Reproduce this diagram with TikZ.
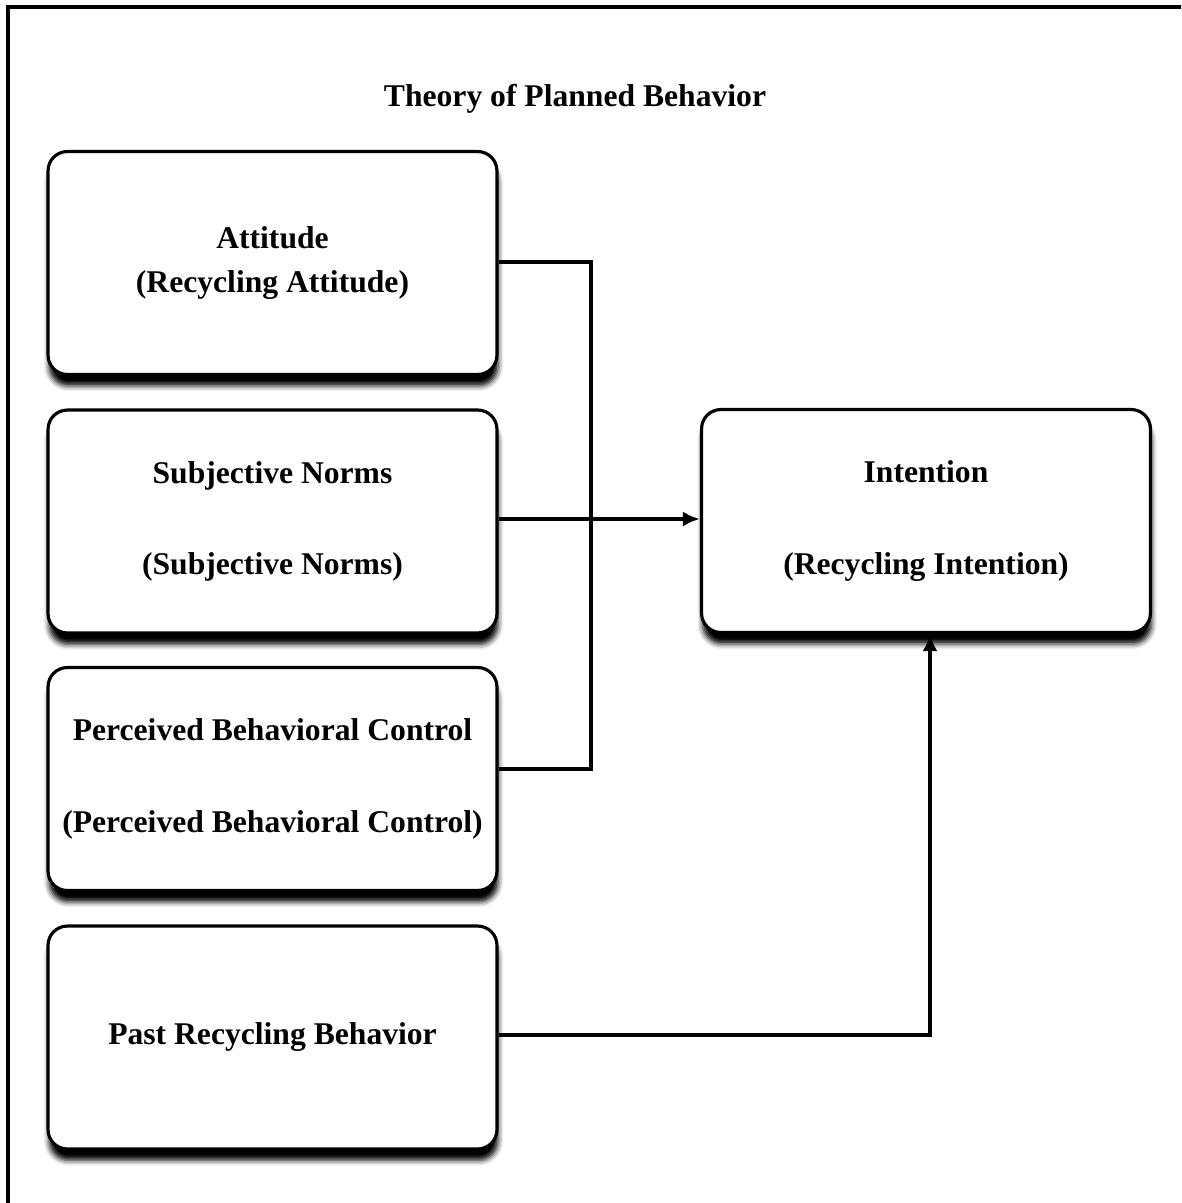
\documentclass[tikz,border=0pt]{standalone}
\usepackage{fontspec}
\setmainfont{Liberation Serif}
\usepackage{tikz}
\usetikzlibrary{arrows.meta, positioning, shadows.blur}

\tikzset{
  tpbbox/.style={draw=black, fill=white, line width=1.8pt, rounded corners=11pt,
    minimum width=8.98cm, minimum height=4.46cm, align=center,
    font=\fontsize{18}{25}\selectfont\bfseries,
    blur shadow={shadow xshift=0.6pt, shadow yshift=-6.5pt, shadow blur radius=3pt, shadow opacity=100}},
  tpblink/.style={draw=black, line width=2.2pt},
  tpbarrow/.style={tpblink, -{Latex[length=0.34cm,width=0.3cm]}}
}

\begin{document}
\begin{tikzpicture}[x=0.02cm, y=-0.02cm]
  \useasboundingbox (0,0) rectangle (1181,1203);
  \clip (0,0) rectangle (1181,1203);
  \draw[line width=1.8pt] (8,1250) |- (1250,7);

  \node[font=\fontsize{18}{22}\selectfont\bfseries] (title) at (575,99) {Theory of Planned Behavior};

  % predictors
  \node[tpbbox] (attitude) at (272.5,263) {Attitude\\(Recycling Attitude)};
  \node[tpbbox] (norms) at (272.5,521.5) {Subjective Norms\\[27pt](Subjective Norms)};
  \node[tpbbox] (control) at (272.5,779) {Perceived Behavioral Control\\[27pt](Perceived Behavioral Control)};
  \node[tpbbox] (past) at (272.5,1037.5) {Past Recycling Behavior};

  % outcome
  \node[tpbbox] (intention) at (926,521) {Intention\\[27pt](Recycling Intention)};

  \coordinate (bus) at (591,262);
  \draw[tpblink] (attitude.east |- bus) -- (bus) -- (bus |- 0,769) -- (control.east |- 0,769);
  \draw[tpbarrow] (norms.east |- 0,519) -- (intention.west |- 0,519);
  \draw[tpbarrow] (past.east |- 0,1035) -| (intention.south -| 930,0);
\end{tikzpicture}
\end{document}
